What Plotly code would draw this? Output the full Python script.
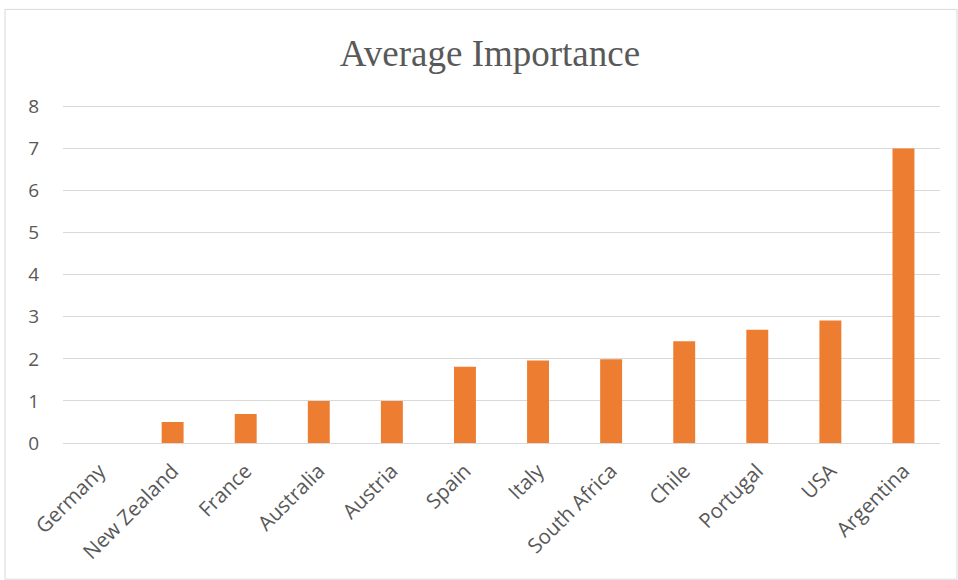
import plotly.graph_objects as go

countries = ["Germany", "New Zealand", "France", "Australia", "Austria", "Spain",
             "Italy", "South Africa", "Chile", "Portugal", "USA", "Argentina"]
importance = [0, 0.5, 0.69, 1.0, 1.0, 1.81, 1.96, 1.99, 2.42, 2.69, 2.91, 7.0]
y_ticks = [0, 1, 2, 3, 4, 5, 6, 7, 8]

W, H = 958, 580
YMAX = 8.06
L, R, B = 63, 18, 137
ph = 336 * YMAX / 8
T = H - B - ph
pw = W - L - R

def px_x(p):
    return (p - L) / pw

def px_y(p):
    return (H - B - p) / ph

fig = go.Figure(go.Bar(
    x=countries, y=importance,
    marker=dict(color="#ED7D31", line=dict(width=0)),
    width=0.3,
))

fig.update_layout(
    width=W, height=H,
    margin=dict(l=L, r=R, t=T, b=B),
    paper_bgcolor="white", plot_bgcolor="white",
    showlegend=False,
    title=dict(text="Average Importance", x=490 / W, xanchor="center",
               y=1 - 53 / H, yanchor="middle",
               font=dict(family="Liberation Serif", size=37, color="#595959")),
    xaxis=dict(tickangle=-45, tickfont=dict(family="Open Sans", size=20.5, color="#595959"),
               showgrid=False, showline=False, ticks="", range=[-0.5, 11.5],
               ticklabelstandoff=11),
    yaxis=dict(range=[0, YMAX], tickvals=y_ticks, showgrid=True, gridcolor="#D9D9D9",
               gridwidth=1, zeroline=True, zerolinecolor="#D9D9D9", zerolinewidth=1,
               tickfont=dict(family="Open Sans", size=19, color="#595959"),
               ticks="", ticklabelstandoff=23),
    shapes=[dict(type="rect", xref="paper", yref="paper",
                 x0=px_x(5), x1=px_x(957), y0=px_y(579), y1=px_y(10),
                 line=dict(color="#D9D9D9", width=1), layer="below")],
)

fig.write_html("out.html")
